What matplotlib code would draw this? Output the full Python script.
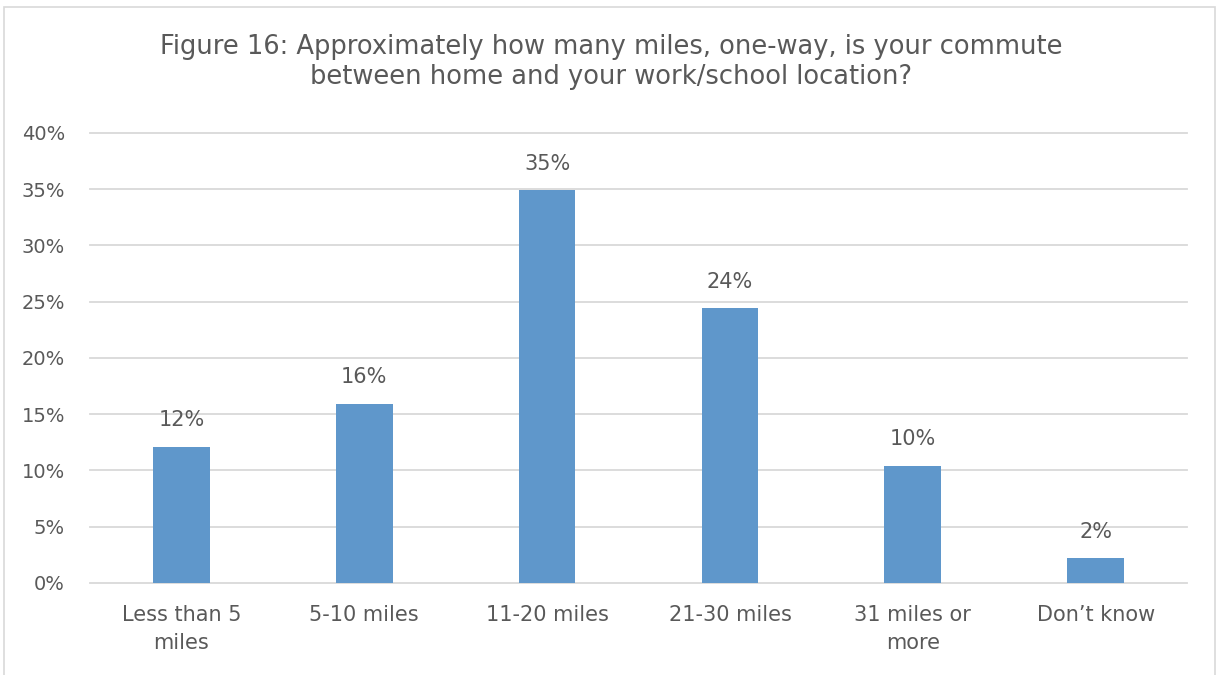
import matplotlib
matplotlib.use("Agg")
import matplotlib.pyplot as plt
from matplotlib.patches import Rectangle
from matplotlib.ticker import FuncFormatter

# Survey responses: one-way commute distance
categories = ["Less than 5\nmiles", "5-10 miles", "11-20 miles",
              "21-30 miles", "31 miles or\nmore", "Don\u2019t know"]
shares = [12.1, 15.9, 34.9, 24.4, 10.4, 2.2]
y_ticks = [0, 5, 10, 15, 20, 25, 30, 35, 40]

title = ("Figure 16: Approximately how many miles, one-way, is your commute\n"
         "between home and your work/school location?")

text_color = "#595959"
bar_color = "#5F97CB"
grid_color = "#D9D9D9"

plt.rcParams["font.family"] = ["DejaVu Sans"]

fig = plt.figure(figsize=(12.22, 6.75), dpi=100)
ax = fig.add_axes([0.0737, 0.1363, 0.8977, 0.6667])

x = list(range(len(categories)))
bars = ax.bar(x, shares, width=0.31, color=bar_color, zorder=3)

for rect, v in zip(bars, shares):
    ax.annotate(f"{v:.0f}%", (rect.get_x() + rect.get_width() / 2, v),
                xytext=(0, 12), textcoords="offset points",
                ha="center", va="bottom", fontsize=15, color=text_color)

ax.set_xlim(-0.5, len(categories) - 0.5)
ax.set_ylim(0, 40)
ax.set_yticks(y_ticks)
ax.yaxis.set_major_formatter(FuncFormatter(lambda v, p: f"{v:.0f}%"))
ax.set_xticks(x)
ax.set_xticklabels(categories, linespacing=1.5)

ax.tick_params(axis="both", length=0, labelcolor=text_color)
ax.tick_params(axis="x", pad=16, labelsize=15)
ax.tick_params(axis="y", pad=18, labelsize=14)

ax.grid(axis="y", color=grid_color, linewidth=1.3, zorder=0)
for line in ax.get_ygridlines():
    line.set_clip_on(False)
for side in ["top", "right", "left", "bottom"]:
    ax.spines[side].set_visible(False)

fig.text(0.5, 0.908, title, ha="center", va="center", fontsize=18.5,
         color=text_color, linespacing=1.2)

# Thin frame round the whole chart
fig.patches.append(Rectangle((0.003, -0.01), 0.991, 1.0, transform=fig.transFigure,
                             fill=False, edgecolor=grid_color, linewidth=1.2))

fig.savefig("out.png", dpi=100, facecolor="white")
